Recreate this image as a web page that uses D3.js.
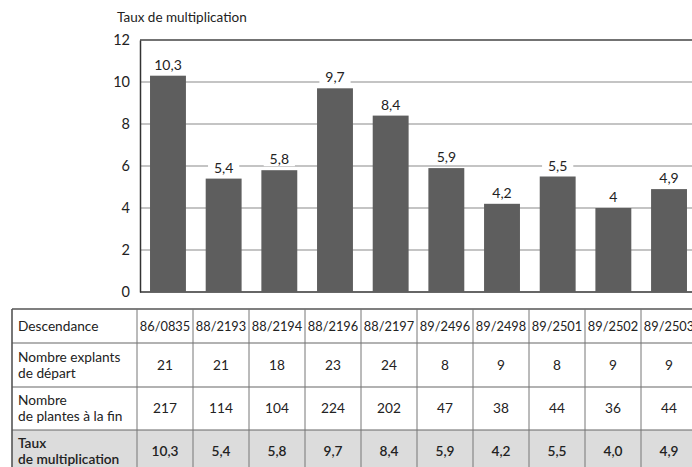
<!DOCTYPE html>
<html lang="fr">
<head>
  <meta charset="UTF-8" />
  <title>Taux de multiplication</title>
  <script src="https://d3js.org/d3.v7.min.js"></script>
  <style>
    body { margin: 0; background: #fff; }
    svg { display: block; font-family: Lato, 'Open Sans', sans-serif; }
  </style>
</head>
<body>
  <div id="chart"></div>
  <script>
    // values
    const lignees = ["86/0835", "88/2193", "88/2194", "88/2196", "88/2197", "89/2496", "89/2498", "89/2501", "89/2502", "89/2503"];
    const explants = [21, 21, 18, 23, 24, 8, 9, 8, 9, 9];
    const plantesFin = [217, 114, 104, 224, 202, 47, 38, 44, 36, 44];
    const taux = [10.3, 5.4, 5.8, 9.7, 8.4, 5.9, 4.2, 5.5, 4.0, 4.9];
    const yTicks = [0, 2, 4, 6, 8, 10, 12];
    const rowLabels = [["Descendance"], ["Nombre explants", "de départ"], ["Nombre", "de plantes à la fin"], ["Taux", "de multiplication"]];

    const width = 692, height = 467;
    const fr = d3.formatLocale({ decimal: ",", thousands: " ", grouping: [3], currency: ["", "€"] });
    const fmtLabel = fr.format("~r");
    const fmtTable = fr.format(".1f");

    const svg = d3.select("#chart").append("svg")
      .attr("width", width)
      .attr("height", height);

    // --- bar chart ---
    const x = d3.scaleBand().domain(lignees).range([140, 697]).paddingInner(0.355).paddingOuter(0.18);
    const y = d3.scaleLinear().domain([0, 12]).range([292, 40]);

    svg.append("text")
      .attr("x", 117).attr("y", 22)
      .attr("font-size", 13.5).attr("fill", "#222")
      .text("Taux de multiplication");

    const grid = svg.append("g");
    grid.selectAll("line")
      .data(yTicks.filter(d => d > 0))
      .join("line")
      .attr("x1", 140).attr("x2", width)
      .attr("y1", d => y(d)).attr("y2", d => y(d))
      .attr("stroke", d => d === 12 ? "#444" : "#8a8a8a")
      .attr("stroke-width", d => d === 12 ? 1.5 : 1.2);

    const yAxis = svg.append("g")
      .attr("transform", "translate(140,0)")
      .call(d3.axisLeft(y).tickValues(yTicks).tickSize(0).tickPadding(10).tickFormat(d3.format("d")));
    yAxis.select(".domain").attr("stroke", "#333").attr("stroke-width", 1.5);
    yAxis.selectAll("text").attr("font-size", 14.5).attr("fill", "#222").attr("font-family", "Lato, sans-serif");

    svg.append("line")
      .attr("x1", 140).attr("x2", width)
      .attr("y1", y(0)).attr("y2", y(0))
      .attr("stroke", "#333").attr("stroke-width", 1.5);

    svg.append("g")
      .selectAll("rect")
      .data(taux)
      .join("rect")
      .attr("x", (d, i) => x(lignees[i]))
      .attr("width", x.bandwidth())
      .attr("y", d => y(d))
      .attr("height", d => y(0) - y(d))
      .attr("fill", "#5e5e5e");

    const lab = svg.append("g")
      .selectAll("g")
      .data(taux)
      .join("g")
      .attr("transform", (d, i) => `translate(${x(lignees[i]) + x.bandwidth() / 2},${y(d) - 6})`);
    lab.append("rect")
      .attr("x", d => -fmtLabel(d).length * 4.2 - 3)
      .attr("width", d => fmtLabel(d).length * 8.4 + 6)
      .attr("y", -13).attr("height", 15)
      .attr("fill", "#fff");
    lab.append("text")
      .attr("text-anchor", "middle")
      .attr("font-size", 14).attr("fill", "#222")
      .text(d => fmtLabel(d));

    // --- table ---
    const colX = d3.scaleBand().domain(lignees).range([137, 697]);
    const rowY = [309, 343, 387, 430, 472];
    const tbl = svg.append("g");

    tbl.append("rect")
      .attr("x", 12).attr("y", rowY[3])
      .attr("width", width).attr("height", rowY[4] - rowY[3])
      .attr("fill", "#dcdcdc");

    const rows = [lignees, explants, plantesFin, taux.map(fmtTable)];
    rows.forEach((vals, r) => {
      const cy = (rowY[r] + rowY[r + 1]) / 2;
      const lines = rowLabels[r];
      tbl.append("g")
        .selectAll("text")
        .data(lines)
        .join("text")
        .attr("x", 18)
        .attr("y", (d, i) => cy + 4.5 + (i - (lines.length - 1) / 2) * 16)
        .attr("font-size", 13.7).attr("fill", "#222")
        .attr("font-weight", r === 3 ? 600 : 400)
        .text(d => d);

      tbl.append("g")
        .selectAll("text")
        .data(vals)
        .join("text")
        .attr("x", (d, i) => colX(lignees[i]) + colX.bandwidth() / 2)
        .attr("y", cy + 4.5)
        .attr("text-anchor", "middle")
        .attr("font-size", r === 0 ? 12.8 : 13.7).attr("fill", "#222")
        .attr("font-weight", r === 3 ? 600 : 400)
        .text(d => d);
    });

    // horizontal rules
    tbl.selectAll("line.h")
      .data(rowY.slice(0, 4))
      .join("line")
      .attr("class", "h")
      .attr("x1", 12).attr("x2", width)
      .attr("y1", d => d).attr("y2", d => d)
      .attr("stroke", (d, i) => i === 0 ? "#555" : "#666")
      .attr("stroke-width", (d, i) => i === 0 ? 1.6 : 1.1);

    // vertical rules
    const vx = [12, 137].concat(lignees.slice(1).map(d => colX(d)));
    tbl.selectAll("line.v")
      .data(vx)
      .join("line")
      .attr("class", "v")
      .attr("x1", d => d).attr("x2", d => d)
      .attr("y1", rowY[0]).attr("y2", height)
      .attr("stroke", (d, i) => i === 0 ? "#555" : "#777")
      .attr("stroke-width", (d, i) => i === 0 ? 1.6 : 1);
  </script>
</body>
</html>
